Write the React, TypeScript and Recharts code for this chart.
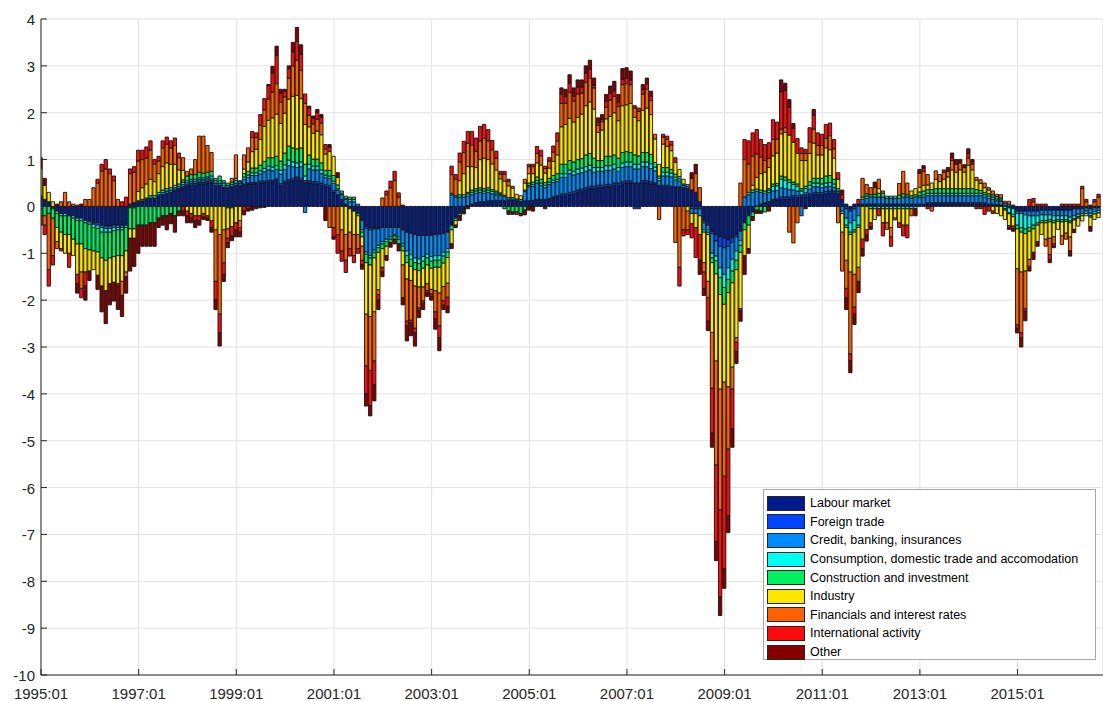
import React from 'react';
import { BarChart, Bar, XAxis, YAxis, CartesianGrid } from 'recharts';

// monthly contributions, 1995:01 - 2016:09 (one row per year)
const labour = [
  .18, .15, .1, -.05, -.1, -.15, -.15, -.2, -.2, -.25, -.25, -.3,
  -.3, -.35, -.35, -.4, -.42, -.42, -.4, -.4, -.4, -.38, .05, .08,
  .1, .12, .15, .18, .18, .22, .25, .28, .3, .32, .35, .38,
  .42, .45, .45, .48, .48, .5, .5, .45, .45, .4, .4, .42,
  .45, .45, .45, .47, .48, .48, .5, .5, .52, .52, .55, .45,
  .5, .52, .55, .58, .55, .5, .5, .48, .48, .45, .42, .4,
  .3, .25, .15, .05, -.05, -.1, -.15, -.3, -.42, -.45, -.45, -.45,
  -.45, -.45, -.45, -.45, -.45, -.5, -.55, -.58, -.6, -.62, -.62, -.62,
  -.62, -.6, -.6, -.58, -.55, -.4, -.25, -.15, -.08, .02, .05, .08,
  .1, .1, .12, .12, .13, .13, .13, .14, .14, .12, .1, .12,
  .12, .13, .15, .15, .15, .17, .18, .2, .22, .22, .25, .27,
  .3, .32, .35, .38, .38, .4, .4, .42, .42, .45, .45, .48,
  .5, .5, .5, .5, .5, .5, .48, .48, .45, .45, .45, .43,
  .42, .42, .4, .38, .35, .3, .1, -.3, -.35, -.53, -.6, -.64,
  -.67, -.71, -.67, -.6, -.5, -.35, -.2, -.12, .02, .05, .08, .1,
  .12, .13, .15, .15, .16, .18, .18, .2, .2, .22, .25, .25,
  .25, .27, .28, .28, .25, .15, .05, -.05, .05, .05, .05, .05,
  .05, .05, .05, .05, .05, .05, .05, .05, .05, .05, .05, .05,
  .05, .05, .05, .05, .05, .05, .05, .05, .05, .05, .05, .05,
  .05, .05, .05, .05, .05, .05, .05, .04, .03, .02, -.03, -.05,
  -.1, -.1, -.1, -.1, -.1, -.1, -.08, -.08, -.08, -.08, -.08, -.08,
  -.08, -.08, -.05, -.05, -.05, -.03, -.05, -.03, -.03,
];

const foreignTrade = [
  .02, 0, 0, 0, 0, 0, 0, 0, 0, 0, 0, 0,
  0, 0, 0, 0, 0, 0, 0, 0, 0, 0, 0, 0,
  0, 0, 0, 0, 0, 0, 0, 0, 0, .03, .03, .04,
  .04, .04, .04, .04, .04, .04, .05, 0, 0, 0, 0, 0,
  0, 0, .03, .03, .03, .03, .04, .04, .04, .04, .04, .04,
  .04, .05, .05, .05, .05, .05, .05, .05, .05, .05, .05, .05,
  .04, 0, 0, 0, 0, 0, 0, 0, -.05, -.05, -.03, -.03,
  0, 0, 0, 0, 0, 0, 0, 0, 0, 0, 0, 0,
  0, 0, 0, 0, 0, 0, 0, 0, 0, 0, 0, 0,
  0, 0, 0, 0, 0, 0, 0, 0, 0, 0, 0, 0,
  0, 0, 0, 0, 0, 0, .03, .03, .05, .05, .05, .05,
  .05, .05, .05, .05, .05, .05, .05, .05, .05, .05, .05, .05,
  .05, .05, -.05, -.05, .05, .05, .05, .03, 0, 0, 0, 0,
  0, 0, 0, 0, -.05, -.05, -.05, -.05, -.05, -.05, -.14, -.21,
  -.21, -.14, -.1, -.05, -.03, 0, 0, 0, 0, 0, 0, 0,
  .03, .03, .05, .05, .05, .05, .05, .05, .05, .05, .05, .05,
  .05, .05, .05, .05, .03, 0, -.05, -.05, -.05, 0, 0, 0,
  0, 0, 0, 0, 0, 0, 0, 0, 0, 0, 0, 0,
  0, 0, .03, .03, .03, .03, .03, .03, .03, .03, .03, .03,
  .03, .03, .03, .03, .03, 0, 0, 0, 0, 0, 0, 0,
  0, 0, 0, 0, 0, 0, 0, 0, 0, 0, 0, 0,
  0, 0, 0, 0, 0, 0, 0, 0, 0,
];

const credit = [
  .02, 0, 0, 0, 0, 0, 0, 0, 0, 0, 0, 0,
  -.03, -.03, -.05, -.05, -.05, -.05, -.05, -.05, -.05, -.03, 0, 0,
  0, 0, 0, 0, 0, .03, .05, .05, .05, .05, .05, .05,
  .05, .05, .05, .05, .05, .05, .05, .05, .05, .05, .05, .05,
  .05, .05, .1, .12, .15, .15, .15, .2, .22, .2, .2, .2,
  .25, .3, .25, .2, .25, -.13, .25, .25, .25, .2, .15, .15,
  .15, .1, .1, .1, .1, .1, .05, -.2, -.5, -.55, -.45, -.35,
  -.3, -.25, -.2, -.15, -.2, -.3, -.4, -.45, -.5, -.5, -.45, -.4,
  -.45, -.45, -.45, -.4, -.35, .25, .2, .2, .2, .2, .2, .2,
  .2, .18, .18, .15, .12, .1, .08, .05, .05, .04, .05, .2,
  .3, .3, .35, .3, .25, .3, .3, .3, .35, .35, .4, .35,
  .35, .35, .35, .35, .3, .3, .3, .3, .3, .3, .25, .3,
  .3, .3, .3, .3, .3, .3, .28, .25, .1, .2, .2, .2,
  .15, .12, .05, .05, -.1, -.1, -.15, -.15, -.1, -.42, -.32, -.46,
  -.57, -.46, -.36, -.3, -.2, .2, .25, .3, .3, .25, .2, .2,
  .18, .18, .2, .18, .15, .12, .1, -.2, .05, .1, .12, .12,
  .1, .1, .1, .08, .05, -.1, -.2, -.25, -.25, -.2, .1, .12,
  .15, .15, .15, .15, .12, .12, .12, .12, .15, .15, .13, .15,
  .15, .15, .15, .15, .15, .15, .15, .15, .15, .15, .15, .15,
  .15, .15, .15, .15, .12, .12, .1, .08, .08, .05, .05, .03,
  -.05, -.05, -.08, -.1, -.1, -.1, -.1, -.1, -.1, -.12, -.12, -.12,
  -.12, -.15, -.15, -.12, -.1, -.07, -.1, -.08, -.06,
];

const consumption = [
  -.05, 0, 0, 0, -.05, -.05, -.05, 0, -.05, -.05, -.05, -.05,
  -.05, -.07, -.07, -.1, -.08, -.08, -.07, -.05, -.05, -.04, -.03, -.03,
  .02, .03, .03, .05, .05, .05, .05, .05, .05, .05, .05, .05,
  .04, .04, .04, .04, .04, .04, .05, .05, .05, .05, -.03, -.03,
  .05, .03, .05, .05, .06, .06, .07, .07, .08, .08, .08, .08,
  .1, .12, .1, .1, .1, .1, .1, .08, .08, .08, .05, .05,
  .05, .03, .03, .02, .05, .05, 0, -.05, -.05, -.05, -.05, -.05,
  -.05, -.05, -.05, -.03, -.05, -.05, -.1, -.1, -.1, -.1, -.1, -.08,
  -.1, -.1, -.1, -.08, -.07, .03, .03, .05, .05, .05, .05, .05,
  .05, .05, .05, .05, .04, .03, .03, 0, 0, 0, 0, .03,
  .03, .04, .05, .05, .05, .05, .05, .05, .08, .08, .08, .08,
  .1, .1, .1, .1, .1, .08, .08, .1, .1, .1, .08, .1,
  .1, .1, .1, .1, .1, .1, .1, .08, .05, .08, .08, .08,
  .05, .05, .03, .04, 0, 0, 0, -.05, -.05, -.1, -.1, -.21,
  -.28, -.25, -.25, -.2, -.1, 0, .05, .05, .05, .05, .05, .05,
  .1, .1, .18, .18, .15, .12, .1, .08, .08, .08, .08, .08,
  .08, .08, .08, .07, 0, -.05, -.15, -.2, -.2, -.2, .05, .05,
  -.05, -.05, -.05, -.05, -.05, -.05, -.05, -.05, -.05, -.05, -.05, -.05,
  .03, .05, .05, .05, .05, .05, .05, .05, .05, .05, .05, .05,
  .05, .05, .05, .05, .05, .05, .05, .04, .03, -.05, -.1, -.12,
  -.25, -.3, -.3, -.25, -.2, -.15, -.12, -.12, -.1, -.1, -.08, -.08,
  -.08, -.08, -.06, -.05, -.05, -.05, -.05, -.05, -.05,
];

const construction = [
  -.15, -.2, -.15, -.2, -.3, -.35, -.4, -.4, -.45, -.5, -.5, -.55,
  -.55, -.5, -.5, -.55, -.6, -.55, -.55, -.55, -.55, -.5, -.45, -.45,
  -.4, -.4, -.4, -.35, -.35, -.25, -.2, -.2, -.15, -.2, -.1, .05,
  .1, .1, .1, .12, .1, .1, .1, .05, .1, .05, .05, .05,
  .05, .02, .07, .08, .1, .1, .12, .15, .18, .2, .2, .2,
  .25, .3, .3, .3, .3, .25, .2, .15, .15, .15, .1, .12,
  .12, .08, .05, .05, .05, .05, -.05, -.1, -.18, -.15, -.12, -.1,
  -.1, -.1, -.07, -.07, -.1, -.1, -.15, -.15, -.15, -.15, -.15, -.15,
  -.15, -.15, -.15, -.15, -.12, -.1, -.05, -.05, -.03, .03, .05, .05,
  .05, .05, .05, .04, .04, .03, -.05, -.1, -.12, -.12, -.15, -.08,
  .05, .05, .08, .08, .06, .08, .1, .12, .2, .2, .2, .2,
  .2, .2, .25, .25, .2, .15, .15, .2, .2, .2, .2, .22,
  .22, .2, .2, .18, .2, .2, .2, .1, .05, .1, .1, .08,
  .07, .05, 0, 0, 0, 0, 0, 0, -.05, -.1, -.28, -.36,
  -.36, -.28, -.25, -.2, -.15, -.15, -.2, -.1, -.08, -.1, -.12, .03,
  .05, .05, .07, .07, .06, .05, .05, .05, .05, .08, .1, .1,
  .12, .15, .15, .1, .05, 0, -.05, -.05, -.05, -.05, 0, .05,
  .05, .06, .08, .08, .05, .05, .05, .07, .07, .05, .05, .05,
  .08, .08, .08, .08, .1, .1, .1, .1, .1, .1, .1, .1,
  .1, .1, .08, .06, .05, .05, .05, .05, .04, -.03, -.03, -.05,
  -.08, -.1, -.1, -.08, -.08, -.05, -.05, -.05, -.05, -.05, -.04, -.05,
  -.04, -.04, -.03, -.03, 0, 0, -.03, 0, 0,
];

const industry = [
  .6, .3, .2, .1, -.3, -.35, -.4, -.4, -.35, -.65, -.6, -.5,
  -.45, -.4, -.5, -.6, -.65, -.55, -.55, -.6, -.55, -.45, -.2, -.2,
  .2, .25, .3, .35, .3, .4, .5, .55, .5, .45, .3, .2,
  -.1, -.15, -.2, -.2, -.15, -.2, -.3, -.5, -.6, -.5, -.45, -.4,
  -.35, -.3, .1, .2, .35, .4, .55, .75, .8, .85, .9, .8,
  .85, 1.0, 1.1, 1.14, 1.05, .85, .6, .55, .6, .6, .35, .4,
  .41, .16, -.5, -.6, -.5, -.5, -.4, -.2, -1.1, -1.1, -1.15, -.8,
  -.4, -.2, 0, 0, 0, -.3, -.35, -.3, -.35, -.35, -.4, -.4,
  -.45, -.5, -.55, -.5, -.55, -.3, -.1, .3, .45, .55, .5, .45,
  .6, .65, .6, .55, .45, .3, .3, .25, .2, .1, .08, .15,
  .2, .18, .3, .3, .2, .22, .3, .4, .8, .85, .9, .85,
  .9, .95, 1.05, 1.1, 1.05, .6, .65, .8, .85, .9, .8, 1.0,
  1.0, 1.05, .8, .75, .9, .95, .85, .5, .25, .5, .45, .4,
  .25, .15, .1, -.1, -.22, -.3, -.4, -.65, -1.0, -1.49, -1.86, -2.02,
  -1.66, -2.01, -1.8, -1.45, -1.2, -.55, -.5, .1, .25, .35, .4, .45,
  .6, .65, .9, .95, .95, .85, .65, .6, .55, .6, .75, .5,
  .5, .6, .55, .45, .2, -.4, -.7, -.8, -.9, -.85, -.7, -.5,
  -.3, -.23, .1, -.3, -.3, -.4, -.2, -.3, -.35, -.35, .1, .13,
  .1, .12, .1, .14, .2, .15, .2, .25, .4, .35, .4, .35,
  .5, .4, .2, .15, .1, .08, -.1, -.15, -.2, -.2, -.25, -.2,
  -.85, -.85, -.8, -.6, -.5, -.35, -.25, -.35, -.35, -.3, -.17, -.3,
  -.25, -.3, -.2, -.17, -.11, -.05, -.2, -.12, -.1,
];

const financials = [
  0, -.2, -1.2, -.8, -.15, .1, .3, .1, .05, .03, -.35, .15,
  .15, .4, .5, .75, .8, .7, .55, .15, -.3, -.1, .65, .65,
  .65, .6, .55, .62, .37, .27, .4, .4, .35, .4, .26, .27,
  .1, .12, .32, .77, .79, .57, .4, -1.1, -1.7, -.7, -.2, .08,
  .5, -.15, .3, .3, .3, .25, .3, .35, .45, .55, .65, .45,
  .35, .45, .65, .75, .6, .45, .25, .2, .25, .25, .1, -.45,
  -.45, -.6, -.45, -.55, -.35, -.45, -.3, -.3, -1.1, -1.15, -1.05, -.1,
  .18, .25, .4, .55, .2, -.7, -.9, -.85, -.9, -.45, -.3, -.15,
  -.1, -.45, -.7, -.3, -.3, .4, .35, .4, .45, .5, .45, .35,
  .4, .42, .4, .3, .25, .1, .15, .1, .04, 0, 0, .08,
  .15, .15, .2, .2, .1, .15, .2, .3, .5, .45, .55, .45,
  .5, .45, .5, .5, .45, .15, .18, .25, .35, .35, .3, .45,
  .45, .4, .2, .2, .35, .4, .3, .1, -.28, .15, .15, .12,
  -.77, -1.3, -.5, -.4, .25, .4, .3, -.2, -.35, -1.19, -2.22, -2.58,
  -2.01, -1.33, -.47, -.1, .5, .8, .6, .62, .5, .35, .25, .2,
  .35, .3, .1, .1, -.55, -.78, -.35, .15, .15, .25, .3, .2,
  .2, .2, .3, .2, -.35, -.83, -.6, -1.75, -.7, -.3, .4, .2,
  .15, .15, .2, .05, -.14, -.2, -.04, .25, .48, .25, -.15, 0,
  .3, .3, .22, -.1, .18, .15, .15, .12, .2, .17, .15, .1,
  .15, .12, .06, .08, .1, .05, .08, .05, .07, .04, .06, 0,
  -1.2, -1.3, -.8, -.15, .1, 0, 0, -.15, -.35, -.15, 0, -.18,
  -.13, -.3, 0, 0, .38, .1, 0, .1, .2,
];

const international = [
  -.2, -.2, -.35, -.2, 0, -.05, 0, -.3, 0, -.2, -.2, -.3,
  0, 0, .08, .15, .2, .1, .1, -.05, .1, .2, .1, .12,
  .23, .2, .24, .2, .1, .1, .15, .15, .15, .16, .1, -.1,
  -.1, -.1, -.1, -.1, -.08, -.05, -.15, -.4, -.4, -.25, -.1, -.2,
  -.15, -.1, -.1, -.05, .13, .1, .23, .24, .3, .4, .6, .2,
  .12, .2, .3, .4, .35, .2, .15, .12, .15, .13, .1, .1,
  -.2, -.4, -.22, -.26, -.16, -.15, -.1, -.1, -.6, -.75, -.5, -.12,
  -.1, .08, .14, .2, .09, .03, -.1, -.05, -.1, -.05, -.05, -.05,
  -.05, -.15, -.25, -.1, -.2, .18, .1, .19, .24, .25, .3, .28,
  .31, .3, .24, .2, .15, .06, .06, .04, 0, -.05, 0, 0,
  .05, .05, .15, .12, .05, .07, .13, .17, .2, .15, .2, .1,
  .15, .13, .2, .2, .06, .06, .05, .12, .15, .12, .1, .12,
  .12, .1, .05, .07, .1, .12, .1, 0, 0, .06, .07, .08,
  .1, -.4, -.13, -.1, -.3, -.64, -.55, -.35, -.5, -.96, -1.64, -1.86,
  -1.98, -1.43, -.85, -.2, -.05, .43, .5, .5, .52, .38, .34, .33,
  .42, .36, .8, .8, .6, .3, .32, .12, .09, .3, .3, .27,
  .24, .3, .27, .2, .14, .1, -.2, -.15, -.15, .1, -.2, -.1,
  -.08, 0, -.15, -.28, 0, -.2, 0, -.1, -.23, -.27, 0, 0,
  0, .07, -.05, 0, 0, 0, .05, 0, .06, 0, 0, 0,
  .1, .05, -.05, -.05, -.17, -.1, -.05, 0, 0, 0, -.05, -.06,
  -.07, -.1, -.06, .15, .07, .05, .05, .05, -.1, -.05, 0, .05,
  .05, .05, .05, .05, .05, .05, .03, .05, .06,
];

const other = [
  .22, .15, 0, 0, .05, 0, 0, 0, 0, -.2, .05, -.3,
  -.2, 0, -.3, -.55, -.7, -.45, -.4, -.5, -.45, -.35, -.7, -.6,
  -.6, -.45, -.45, -.5, -.5, -.2, -.2, -.3, -.22, -.35, -.1, -.1,
  -.15, -.1, -.15, -.1, -.05, -.05, -.1, -.2, -.28, -.15, -.1, -.1,
  -.15, -.1, -.08, -.05, -.08, -.05, -.03, -.02, .01, .15, .2, .08,
  .04, .06, .2, .3, .2, 0, .04, .05, .06, .05, -.3, .05,
  -.05, .1, 0, 0, 0, 0, 0, -.09, -.26, -.22, -.35, -.2,
  -.1, -.1, -.1, -.1, -.15, -.15, -.32, -.28, -.28, -.15, -.13, -.07,
  -.08, -.22, -.28, -.09, -.13, -.1, -.05, -.1, -.05, -.05, 0, 0,
  0, 0, 0, 0, 0, 0, 0, -.07, -.05, 0, -.05, -.1,
  -.08, -.1, 0, 0, -.05, 0, 0, 0, .13, .15, .18, .18,
  .15, .15, .15, .19, .15, .1, .1, .15, .15, .2, .16, .22,
  .22, .19, 0, 0, .1, .12, .1, 0, 0, 0, 0, 0,
  0, 0, 0, 0, .12, .2, -.3, -.15, -.2, -.3, -.4, -.39,
  -.41, -.35, -.39, -.25, -.22, -.4, -.1, -.08, -.07, -.05, 0, -.1,
  0, 0, .25, .15, .16, .1, 0, 0, -.05, 0, .12, 0,
  0, 0, 0, 0, 0, .1, -.25, -.25, -.22, -.24, -.16, -.14,
  -.06, .11, 0, 0, 0, 0, 0, 0, 0, 0, 0, -.15,
  .08, .05, 0, 0, 0, 0, 0, .08, .1, .1, .07, .06,
  .1, .05, 0, 0, 0, 0, 0, 0, 0, 0, -.03, -.05,
  -.1, -.2, -.2, -.1, -.15, -.1, 0, 0, -.07, -.03, 0, 0,
  0, -.11, -.07, 0, 0, 0, -.1, 0, 0,
];

const months = labour.map((_, i) => {
  const y = 1995 + Math.floor(i / 12);
  const m = (i % 12) + 1;
  return `${y}:${m < 10 ? '0' + m : m}`;
});

const xTicks = [0, 24, 48, 72, 96, 120, 144, 168, 192, 216, 240];
const yTicks = [-10, -9, -8, -7, -6, -5, -4, -3, -2, -1, 0, 1, 2, 3, 4];

const series = [
  { key: 'labour', name: 'Labour market', color: '#001c8c', values: labour },
  { key: 'foreign', name: 'Foreign trade', color: '#0044ff', values: foreignTrade },
  { key: 'credit', name: 'Credit, banking, insurances', color: '#008cff', values: credit },
  { key: 'consumption', name: 'Consumption, domestic trade and accomodation', color: '#00fff0', values: consumption },
  { key: 'construction', name: 'Construction and investment', color: '#00f060', values: construction },
  { key: 'industry', name: 'Industry', color: '#ffe600', values: industry },
  { key: 'financials', name: 'Financials and interest rates', color: '#ff6000', values: financials },
  { key: 'international', name: 'International activity', color: '#ff0a0a', values: international },
  { key: 'other', name: 'Other', color: '#870000', values: other },
];

const data = months.map((label, i) => {
  const row: any = { i, label };
  series.forEach(s => { row[s.key] = s.values[i]; });
  return row;
});

const FONT = '"Liberation Sans", Arial, Helvetica, sans-serif';
const AXIS = '#262626';

const XTick = (props: any) => {
  const { x, payload } = props;
  return (
    <g>
      <line x1={x} x2={x} y1={675} y2={669} stroke={AXIS} strokeWidth={1} />
      <text x={x} y={699} textAnchor="middle" fontSize={15} fontFamily={FONT} fill={AXIS}>
        {months[payload.value]}
      </text>
    </g>
  );
};

const YTick = (props: any) => {
  const { y, payload } = props;
  return (
    <g>
      <line x1={41} x2={47} y1={y} y2={y} stroke={AXIS} strokeWidth={1} />
      <text x={35} y={y + 6} textAnchor="end" fontSize={15} fontFamily={FONT} fill={AXIS}>
        {payload.value}
      </text>
    </g>
  );
};

export default function App() {
  return (
    <div style={{ position: 'absolute', left: 0, top: 0, width: 1103, height: 701, background: '#fff' }}>
      <BarChart
        width={1103}
        height={701}
        data={data}
        stackOffset="sign"
        barSize={3.3}
        margin={{ top: 19, right: 0, bottom: 0, left: 0 }}
      >
        <CartesianGrid stroke="#e2e2e2" strokeWidth={1} />
        <XAxis
          type="number"
          dataKey="i"
          domain={[0, 261]}
          ticks={xTicks}
          interval={0}
          height={26}
          tick={<XTick />}
          tickLine={false}
          axisLine={{ stroke: AXIS }}
          allowDataOverflow
        />
        <YAxis
          type="number"
          domain={[-10, 4]}
          ticks={yTicks}
          interval={0}
          width={41}
          tick={<YTick />}
          tickLine={false}
          axisLine={{ stroke: AXIS }}
        />
        {series.map(s => (
          <Bar
            key={s.key}
            dataKey={s.key}
            name={s.name}
            stackId="a"
            fill={s.color}
            stroke="#111"
            strokeWidth={0.9}
            isAnimationActive={false}
          />
        ))}
      </BarChart>
      <div
        style={{
          position: 'absolute',
          left: 763,
          top: 489,
          width: 333,
          height: 171,
          boxSizing: 'border-box',
          border: '1px solid #a8a8a8',
          background: '#fff',
          paddingTop: 4,
          fontFamily: FONT,
          fontSize: 12.5,
          color: '#000',
        }}
      >
        {series.map(s => (
          <div key={s.key} style={{ display: 'flex', alignItems: 'center', height: 18.6 }}>
            <span
              style={{
                display: 'inline-block',
                width: 36,
                height: 13,
                marginLeft: 3,
                marginRight: 5,
                background: s.color,
                border: '1px solid #262626',
              }}
            />
            <span>{s.name}</span>
          </div>
        ))}
      </div>
    </div>
  );
}
